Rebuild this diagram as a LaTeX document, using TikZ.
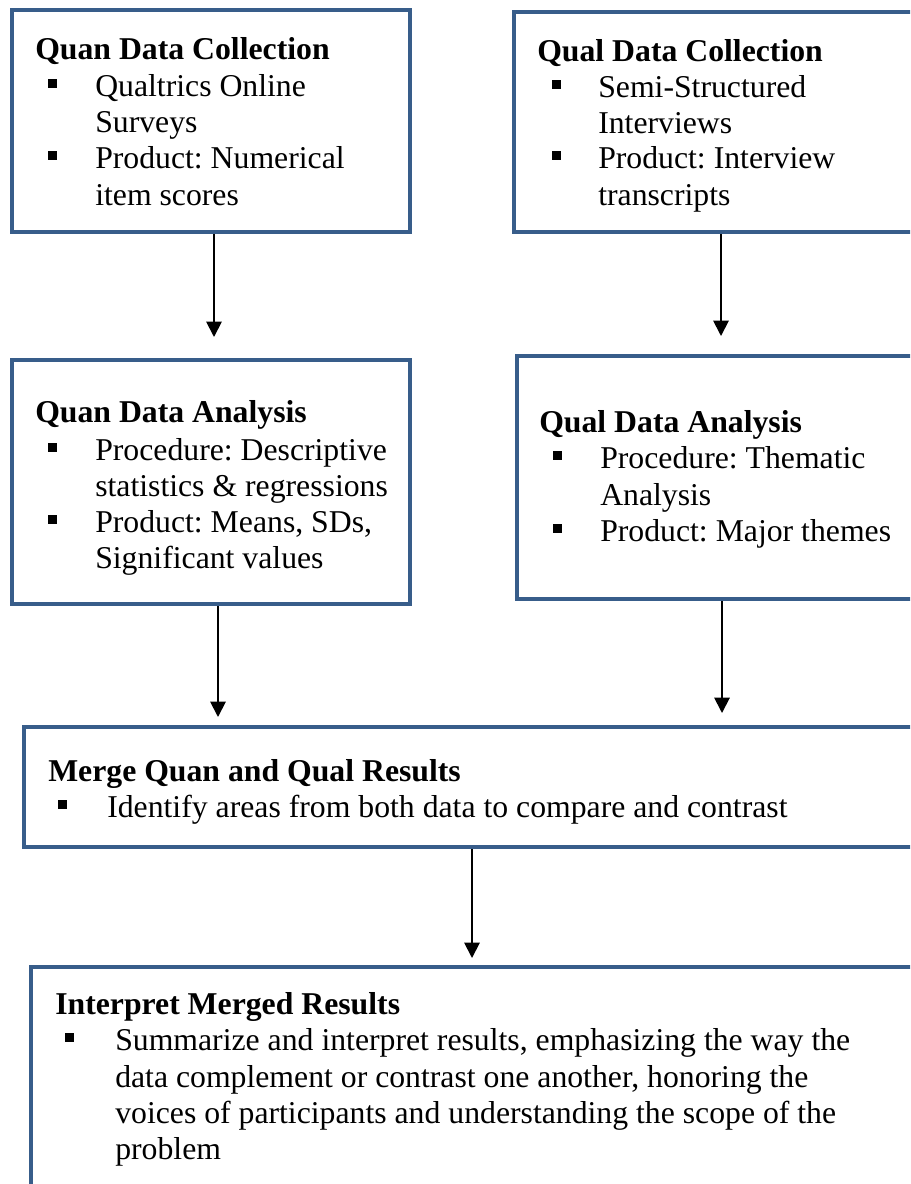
\documentclass[tikz,border=0pt]{standalone}
\usepackage{fontspec}
\setmainfont{Liberation Serif}
\usetikzlibrary{arrows.meta,fit}
\definecolor{boxblue}{RGB}{56,93,138}
\frenchspacing
\tikzset{
  box/.style={draw=boxblue, line width=3pt, inner sep=0pt, rectangle},
  txt/.style={anchor=base west, inner sep=0pt, font=\fontsize{23.8pt}{27.4pt}\selectfont},
  ttl/.style={txt, font=\fontsize{23.8pt}{27.4pt}\selectfont\bfseries},
  bul/.style={fill=black, minimum size=6.75pt, inner sep=0pt},
  flow/.style={line width=1.4pt, -{Triangle[width=11.5pt,length=11.5pt]}},
}
\begin{document}
\begin{tikzpicture}[x=0.75pt,y=-0.75pt]
\clip (0,0) rectangle (910,1184);
\fill[white] (0,0) rectangle (910,1184);

% boxes (right-hand ones run off the page edge)
\node[box, fit={(12,10) (410,232)}] (qnc) {};
\node[box, fit={(514,12) (940,232)}] (qlc) {};
\node[box, fit={(12,360) (410,604)}] (qna) {};
\node[box, fit={(517,356) (940,599)}] (qla) {};
\node[box, fit={(24,727) (940,847)}] (mrg) {};
\node[box, fit={(31,967) (940,1210)}] (itp) {};

% Quan data collection
\node[ttl] (qnc-t) at (35,60) {Quan Data Collection};
\node[bul] (qnc-b1) at (52.5,84) {};
\node[txt] (qnc-l1) at (95,97) {Qualtrics Online};
\node[txt] (qnc-l2) at (95,133) {Surveys};
\node[bul] (qnc-b2) at (52.5,156) {};
\node[txt] (qnc-l3) at (95,169) {Product: Numerical};
\node[txt] (qnc-l4) at (95,205) {item scores};

% Qual data collection
\node[ttl] (qlc-t) at (537,62) {Qual Data Collection};
\node[bul] (qlc-b1) at (556,85) {};
\node[txt] (qlc-l1) at (598,98) {Semi-Structured};
\node[txt] (qlc-l2) at (598,134) {Interviews};
\node[bul] (qlc-b2) at (556,156) {};
\node[txt] (qlc-l3) at (598,169) {Product: Interview};
\node[txt] (qlc-l4) at (598,205) {transcripts};

% Quan data analysis
\node[ttl] (qna-t) at (35,422) {Quan Data Analysis};
\node[bul] (qna-b1) at (52.5,447) {};
\node[txt] (qna-l1) at (95,460) {Procedure: Descriptive};
\node[txt] (qna-l2) at (95,496) {statistics \& regressions};
\node[bul] (qna-b2) at (52.5,519) {};
\node[txt] (qna-l3) at (95,532) {Product: Means, SDs,};
\node[txt] (qna-l4) at (95,568) {Significant values};

% Qual data analysis
\node[ttl] (qla-t) at (539,432) {Qual Data Analysis};
\node[bul] (qla-b1) at (557,455) {};
\node[txt] (qla-l1) at (600,468) {Procedure: Thematic};
\node[txt] (qla-l2) at (600,505) {Analysis};
\node[bul] (qla-b2) at (557,528) {};
\node[txt] (qla-l3) at (600,541) {Product: Major themes};

% Merge
\node[ttl] (mrg-t) at (48,781) {Merge Quan and Qual Results};
\node[bul] (mrg-b1) at (62,804) {};
\node[txt] (mrg-l1) at (107,817) {Identify areas from both data to compare and contrast};

% Interpret
\node[ttl] (itp-t) at (55,1014) {Interpret Merged Results};
\node[bul] (itp-b1) at (69,1037) {};
\node[txt] (itp-l1) at (115,1050) {Summarize and interpret results, emphasizing the way the};
\node[txt] (itp-l2) at (115,1087) {data complement or contrast one another, honoring the};
\node[txt] (itp-l3) at (115,1123) {voices of participants and understanding the scope of the};
\node[txt] (itp-l4) at (115,1159) {problem};

% arrow tips
\coordinate (tip1) at (214,337);
\coordinate (tip2) at (721,336);
\coordinate (tip3) at (218,717);
\coordinate (tip4) at (722,713);
\coordinate (tip5) at (472,958);

\draw[flow] (qnc.south -| tip1) -- (tip1);
\draw[flow] (qlc.south -| tip2) -- (tip2);
\draw[flow] (qna.south -| tip3) -- (tip3);
\draw[flow] (qla.south -| tip4) -- (tip4);
\draw[flow] (mrg.south -| tip5) -- (tip5);
\end{tikzpicture}
\end{document}
